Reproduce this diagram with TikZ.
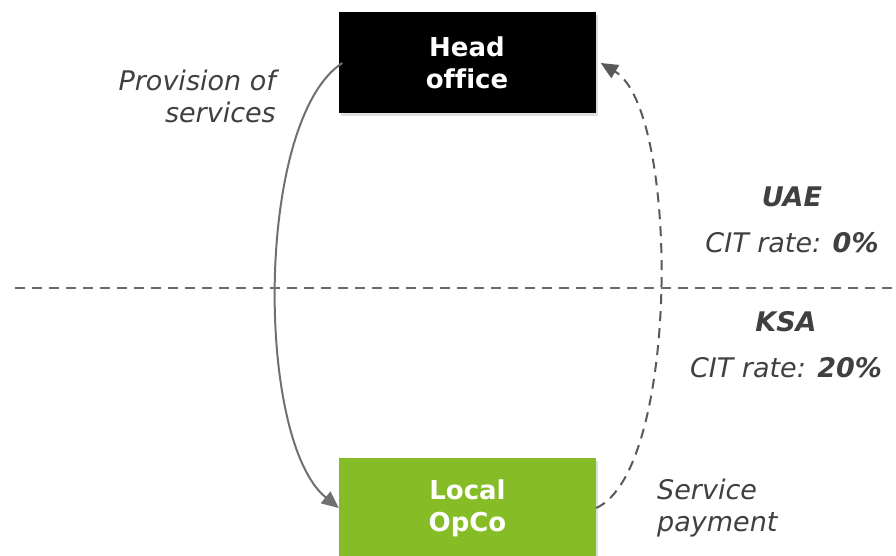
\documentclass[tikz,border=0pt]{standalone}
\usepackage{fontspec}
\setmainfont{DejaVu Sans}[Ligatures=NoCommon]
\usetikzlibrary{arrows.meta,shadows}
\definecolor{opgreen}{HTML}{86BC25}
\definecolor{txtgray}{HTML}{404040}
\definecolor{arrgray}{HTML}{707070}
\definecolor{dashgray}{HTML}{595959}
\begin{document}
\begin{tikzpicture}[x=1pt,y=-1pt,
  box/.style={rectangle,minimum width=257pt,minimum height=101pt,inner sep=0pt,align=center,
    font=\fontsize{26}{32}\selectfont\bfseries,text=white,
    drop shadow={opacity=0.25,shadow xshift=2pt,shadow yshift=-3pt}},
  lbl/.style={font=\fontsize{27}{32}\selectfont\itshape,text=txtgray,inner sep=0pt},
  blbl/.style={lbl,font=\fontsize{27}{32}\selectfont\bfseries\itshape},
  tip/.style={-{Triangle[length=17pt,width=15pt]}},
  dashpat/.style={dash pattern=on 10pt off 7pt,line width=2pt}]
\useasboundingbox (0,0) rectangle (896,556);
\begin{scope}
\clip (0,0) rectangle (896,556);
\node[box,fill=black] (head) at (467,63) {Head\\office};
\node[box,fill=opgreen,minimum height=100pt] (local) at (467.5,508) {Local\\OpCo};
\end{scope}
\coordinate (hl) at (15,288);
\coordinate (hr) at (896,288);
\draw[dashpat,color=dashgray!90] (hl) -- (hr);
\draw[arrgray,line width=2pt,tip] ([xshift=4pt]head.west) .. controls (255,120) and (255,440) .. (local.west);
\draw[dashgray,dashpat,tip] (local.east) .. controls (680,470) and (680,110) .. ([xshift=5pt]head.east);
\node[lbl,align=right,anchor=east] (prov) at (276,96) {Provision of\\services};
\node[lbl,align=left,anchor=west] (pay) at (657,508) {Service\\payment};
\node[blbl] (uae) at (792,197) {UAE};
\node[lbl] (cit1) at (792,243) {CIT rate: \textbf{0\%}};
\node[blbl] (ksa) at (786,322) {KSA};
\node[lbl] (cit2) at (786,368) {CIT rate: \textbf{20\%}};
\end{tikzpicture}
\end{document}
